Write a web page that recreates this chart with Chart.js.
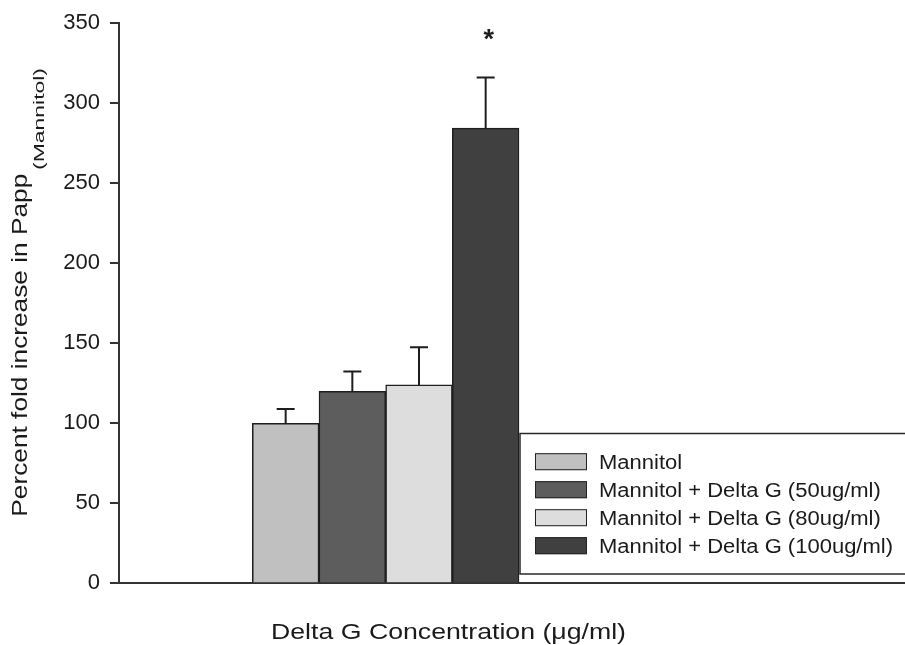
<!DOCTYPE html>
<html><head><meta charset="utf-8">
<script src="https://cdn.jsdelivr.net/npm/chart.js@4/dist/chart.umd.min.js"></script>
<style>html,body{margin:0;padding:0;background:#fff;overflow:hidden}</style>
</head><body>
<canvas id="c" width="905" height="645"></canvas>
<script>
// ---- data ----
const categories = ['Mannitol', 'Mannitol + Delta G (50ug/ml)', 'Mannitol + Delta G (80ug/ml)', 'Mannitol + Delta G (100ug/ml)'];
const meanValues = [100, 120, 124, 284.5];
const errorValues = [9, 12.3, 23.5, 31.7];
const sigMarks = ['', '', '', '*'];
const yTicks = [0, 50, 100, 150, 200, 250, 300, 350];
const yTitle = 'Percent fold increase in Papp';
const yTitleSub = '(Mannitol)';
const xTitle = 'Delta G Concentration (\u03bcg/ml)';

// ---- styles / layout ----
const barColors = ['#c0c0c0', '#5d5d5d', '#dddddd', '#404040'];
const FONT = '"Liberation Sans", Arial, Helvetica, sans-serif';
const slotOffset = 2.5;   // bars start two bar-widths right of the axis
const xMax = 11.79;       // axis length in bar-width units

function fitText(ctx, text, x, y, font, targetW, rot, align, kFixed) {
  ctx.save();
  ctx.translate(x, y);
  if (rot) ctx.rotate(rot);
  ctx.font = font;
  const w = ctx.measureText(text).width;
  const k = kFixed ? kFixed : (targetW ? targetW / w : 1);
  ctx.scale(k, 1);
  ctx.textBaseline = 'alphabetic';
  ctx.textAlign = 'left';
  const dx = align === 'center' ? -w / 2 : 0;
  ctx.fillText(text, dx, 0);
  ctx.restore();
}

const errorBarPlugin = {
  id: 'errorBars',
  afterDatasetsDraw(chart) {
    const ctx = chart.ctx, ys = chart.scales.y;
    const meta = chart.getDatasetMeta(0);
    ctx.save();
    ctx.strokeStyle = '#1e1e1e';
    ctx.lineWidth = 2;
    meta.data.forEach((el, i) => {
      const yTop = ys.getPixelForValue(meanValues[i] + errorValues[i]);
      ctx.beginPath();
      ctx.moveTo(el.x, el.y);
      ctx.lineTo(el.x, yTop);
      ctx.moveTo(el.x - 9, yTop);
      ctx.lineTo(el.x + 9, yTop);
      ctx.stroke();
      if (sigMarks[i]) {
        ctx.fillStyle = '#1e1e1e';
        ctx.font = 'bold 27px ' + FONT;
        ctx.textAlign = 'center';
        ctx.textBaseline = 'alphabetic';
        ctx.fillText(sigMarks[i], el.x + 3, yTop - 29);
      }
    });
    ctx.restore();
  }
};

const decorPlugin = {
  id: 'decor',
  afterDraw(chart) {
    const ctx = chart.ctx;
    const ca = chart.chartArea;
    ctx.save();
    ctx.fillStyle = '#1a1a1a';
    // y-axis title with subscript
    fitText(ctx, yTitle, 26.7, 516.7, '22px ' + FONT, 343, -Math.PI / 2);
    fitText(ctx, yTitleSub, 44, 170, '15px ' + FONT, 102, -Math.PI / 2);
    // x-axis title
    fitText(ctx, xTitle, 448.5, 639.3, '22px ' + FONT, 355, 0, 'center');

    // legend box
    const bx = 520, by = 433.5, bh = 140.5;
    ctx.strokeStyle = '#2a2a2a';
    ctx.lineWidth = 1.5;
    ctx.strokeRect(bx, by, ca.right - bx + 20, bh);
    ctx.font = '20px ' + FONT;
    const longest = Math.max(...categories.map(c => ctx.measureText(c).width));
    const k = 294 / longest;
    categories.forEach((lab, i) => {
      const cy = 461.7 + i * 28;
      ctx.fillStyle = barColors[i];
      ctx.fillRect(535, cy - 8.5, 52, 17);
      ctx.strokeStyle = '#222';
      ctx.lineWidth = 1;
      ctx.strokeRect(535.5, cy - 8, 51, 16);
      ctx.fillStyle = '#1a1a1a';
      fitText(ctx, lab, 599, cy + 7.5, '20px ' + FONT, null, 0, null, k);
    });
    ctx.restore();
  }
};

new Chart(document.getElementById('c'), {
  type: 'bar',
  data: {
    datasets: [{
      label: 'Papp',
      data: meanValues.map((v, i) => ({ x: i + slotOffset, y: v })),
      backgroundColor: barColors,
      borderColor: '#1e1e1e',
      borderWidth: 1.5,
      borderSkipped: 'bottom',
      barPercentage: 1,
      categoryPercentage: 1
    }]
  },
  options: {
    responsive: false,
    animation: false,
    events: [],
    layout: { padding: { top: 23.3, bottom: 61.7, left: 0, right: 0 } },
    plugins: { legend: { display: false }, tooltip: { enabled: false } },
    scales: {
      x: {
        type: 'linear', min: 0, max: xMax, offset: false,
        ticks: { display: false, stepSize: 20 },
        grid: { display: false, offset: false },
        border: { display: true, color: '#333', width: 2 },
        afterFit(s) { s.height = 0; }
      },
      y: {
        min: 0, max: 350,
        afterBuildTicks(s) { s.ticks = yTicks.map(v => ({ value: v })); },
        ticks: { color: '#1a1a1a', font: { family: FONT, size: 22 }, padding: 10 },
        grid: { drawOnChartArea: false, drawTicks: true, tickLength: 9, color: '#333', lineWidth: 2 },
        border: { display: true, color: '#333', width: 2 },
        afterFit(s) { s.width = 119; }
      }
    }
  },
  plugins: [errorBarPlugin, decorPlugin]
});
</script>
</body></html>
